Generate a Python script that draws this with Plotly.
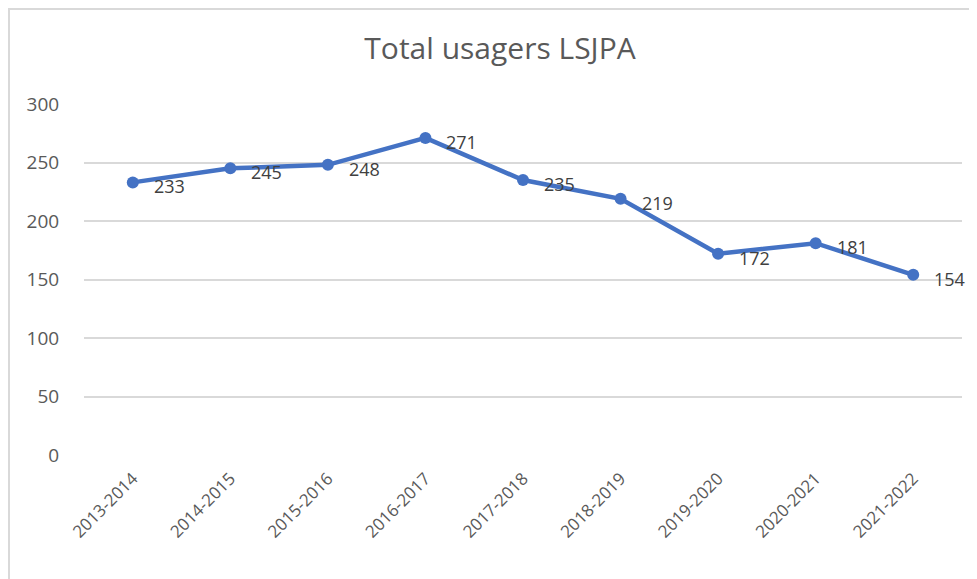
import plotly.graph_objects as go

categories = ["2013-2014", "2014-2015", "2015-2016", "2016-2017", "2017-2018",
              "2018-2019", "2019-2020", "2020-2021", "2021-2022"]
values = [233, 245, 248, 271, 235, 219, 172, 181, 154]
y_ticks = [0, 50, 100, 150, 200, 250, 300]

blue = "#4472C4"
gray = "#595959"
font = "Open Sans, Liberation Sans, sans-serif"

OFF = 8  # default page body margin
W, H = 977 - OFF, 579 - OFF
L, R, T, B = 84 - OFF, 15, 104 - OFF, 124
pw, ph = W - L - R, H - T - B

fig = go.Figure()
fig.add_trace(go.Scatter(
    x=categories, y=values, mode="lines+markers",
    line=dict(color=blue, width=4.5),
    marker=dict(color=blue, size=12),
    hoverinfo="x+y", showlegend=False,
))

for c, v in zip(categories, values):
    fig.add_annotation(x=c, y=v, text=str(v), showarrow=False,
                       xanchor="left", yanchor="middle", xshift=19, yshift=-4,
                       font=dict(family=font, size=18, color="#404040"))

# chart border (left and top visible)
fig.add_shape(type="rect", xref="paper", yref="paper",
              x0=(1 - L) / pw, x1=(W + 10 - L) / pw,
              y0=-(B + 10) / ph, y1=1 + (T - 1) / ph,
              line=dict(color="#D9D9D9", width=2), layer="below")

fig.update_layout(
    width=W, height=H,
    margin=dict(l=L, r=R, t=T, b=B),
    plot_bgcolor="white", paper_bgcolor="white",
    title=dict(text="Total usagers LSJPA", x=(500 - OFF) / W, xanchor="center",
               y=1 - (48 - OFF) / H, yanchor="middle",
               font=dict(family=font, size=30, color=gray)),
    xaxis=dict(type="category", range=[-0.5, len(categories) - 0.5],
               showgrid=False, showline=False, zeroline=False,
               tickangle=-45, ticks="outside", ticklen=6, tickcolor="rgba(0,0,0,0)",
               tickfont=dict(family=font, size=17, color=gray)),
    yaxis=dict(range=[0, 300], tickvals=y_ticks, showgrid=True,
               gridcolor="#D9D9D9", gridwidth=1.5, zeroline=False, showline=False,
               ticks="outside", ticklen=20, tickcolor="rgba(0,0,0,0)",
               tickfont=dict(family=font, size=19, color=gray)),
)

fig.write_html("out.html")
